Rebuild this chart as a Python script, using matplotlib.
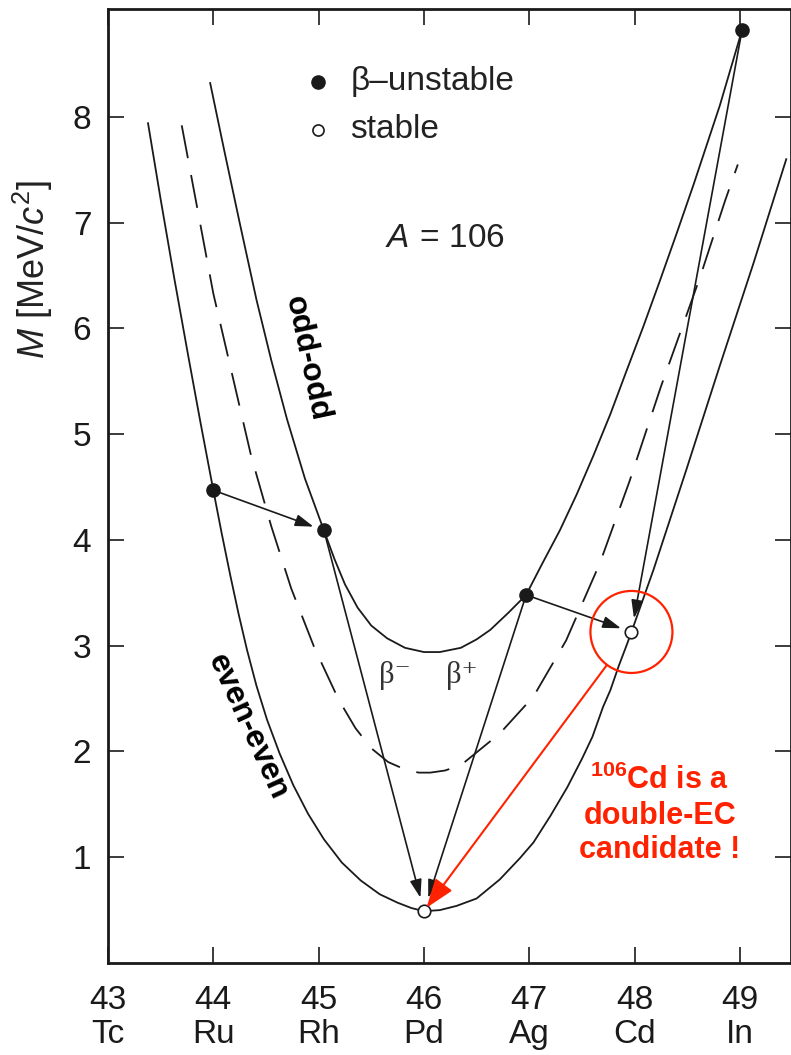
import numpy as np
import matplotlib.pyplot as plt
from matplotlib.patches import Ellipse

plt.rcParams['font.family'] = ['Liberation Sans', 'DejaVu Sans']
plt.rcParams['mathtext.fontset'] = 'custom'
plt.rcParams['mathtext.rm'] = 'Liberation Sans'
plt.rcParams['mathtext.it'] = 'Liberation Sans:italic'
plt.rcParams['mathtext.bf'] = 'Liberation Sans:bold'

# axis ticks
z_ticks = [43, 44, 45, 46, 47, 48, 49]
elements = ['Tc', 'Ru', 'Rh', 'Pd', 'Ag', 'Cd', 'In']
m_ticks = [1, 2, 3, 4, 5, 6, 7, 8]

# even-even mass parabola
ee_z = [43.38, 43.50, 43.63, 43.76, 43.88, 44.00, 44.08, 44.16, 44.24, 44.32,
        44.41, 44.51, 44.63, 44.76, 44.90, 45.05, 45.22, 45.40, 45.58, 45.75,
        45.88, 46.00, 46.15, 46.31, 46.50, 46.72, 46.91, 47.04, 47.20, 47.36,
        47.50, 47.60, 47.70, 47.77, 47.85, 47.93, 47.97, 48.18, 48.49, 48.81,
        49.13, 49.44]
ee_m = [7.94, 7.22, 6.47, 5.75, 5.10, 4.47, 4.06, 3.67, 3.30, 2.96,
        2.62, 2.30, 1.98, 1.68, 1.41, 1.17, 0.95, 0.78, 0.65, 0.57,
        0.52, 0.49, 0.50, 0.54, 0.61, 0.79, 0.99, 1.14, 1.39, 1.66,
        1.93, 2.14, 2.42, 2.58, 2.81, 3.02, 3.13, 3.72, 4.66, 5.65,
        6.62, 7.60]

# odd-odd mass parabola
oo_z = [43.97, 44.10, 44.25, 44.41, 44.55, 44.70, 44.87, 45.05, 45.15, 45.25,
        45.37, 45.50, 45.65, 45.82, 46.00, 46.15, 46.35, 46.50, 46.63, 46.80,
        46.97, 47.12, 47.29, 47.45, 47.61, 47.77, 47.92, 48.08, 48.24, 48.40,
        48.56, 48.68, 48.81, 49.02]
oo_m = [8.32, 7.70, 7.00, 6.27, 5.70, 5.14, 4.58, 4.09, 3.82, 3.58,
        3.36, 3.19, 3.07, 2.98, 2.94, 2.94, 2.98, 3.06, 3.15, 3.31,
        3.48, 3.77, 4.09, 4.43, 4.80, 5.19, 5.59, 6.01, 6.45, 6.90,
        7.36, 7.72, 8.11, 8.82]

# odd-A reference parabola (dashed)
mid_z = [43.70, 44.00, 44.36, 44.55, 44.74, 44.96, 45.19, 45.35, 45.50, 45.66,
         45.82, 45.95, 46.06, 46.20, 46.35, 46.72, 47.04, 47.35, 47.67, 47.95,
         48.25, 48.62, 48.86, 48.98]
mid_m = [7.92, 6.33, 4.79, 4.13, 3.54, 2.98, 2.49, 2.22, 2.03, 1.90,
         1.83, 1.80, 1.80, 1.82, 1.87, 2.17, 2.52, 3.05, 3.78, 4.55,
         5.45, 6.48, 7.21, 7.55]

# nuclides with A = 106
nuc_names = ['Ru', 'Rh', 'Pd', 'Ag', 'Cd', 'In']
nuc_z = [44.00, 45.05, 46.00, 46.97, 47.97, 49.02]
nuc_m = [4.47, 4.09, 0.49, 3.48, 3.13, 8.82]
nuc_stable = [False, False, True, False, True, False]
decays = [('Ru', 'Rh'), ('Rh', 'Pd'), ('Ag', 'Pd'), ('Ag', 'Cd'), ('In', 'Cd')]
decay_shrink = [8, 10, 10, 8, 10]

ink = '#1a1a1a'
red = '#ff2200'

fig = plt.figure(figsize=(7.91, 10.55), dpi=100)
ax = fig.add_axes([108 / 791, 92 / 1055, 683 / 791, 954 / 1055])

ax.plot(ee_z, ee_m, color=ink, lw=1.3, zorder=2)
ax.plot(oo_z, oo_m, color=ink, lw=1.3, zorder=2)
ax.plot(mid_z, mid_m, color=ink, lw=1.3, dashes=(18.5, 9.5), zorder=2)

pos = {n: (z, m) for n, z, m in zip(nuc_names, nuc_z, nuc_m)}
for (a, b), sh in zip(decays, decay_shrink):
    ax.annotate('', xy=pos[b], xytext=pos[a],
                arrowprops=dict(arrowstyle='-|>,head_length=0.55,head_width=0.18',
                                color=ink, lw=1.2, shrinkA=0, shrinkB=sh,
                                mutation_scale=20), zorder=3)

for z, m, st in zip(nuc_z, nuc_m, nuc_stable):
    if st:
        ax.plot(z, m, 'o', ms=9, mfc='white', mec=ink, mew=1.2, zorder=5)
    else:
        ax.plot(z, m, 'o', ms=9.5, mfc=ink, mec=ink, zorder=5)

# legend drawn by hand
ax.plot(44.99, 8.33, 'o', ms=9.5, mfc=ink, mec=ink)
ax.plot(44.99, 7.88, 'o', ms=8, mfc='white', mec=ink, mew=1.2)
ax.text(45.30, 8.33, '\u03b2\u2013unstable', fontsize=24, va='center', ha='left', color='#222222')
ax.text(45.30, 7.88, 'stable', fontsize=24, va='center', ha='left', color='#222222')

ax.text(46.2, 6.85, r'$A\,{=}\,106$', fontsize=24, ha='center', va='center', color='#222222')
ax.text(44.89, 5.72, 'odd-odd', rotation=-78, rotation_mode='anchor', fontsize=23,
        fontweight='bold', ha='center', va='center')
ax.text(44.32, 2.23, 'even-even', rotation=-65.5, rotation_mode='anchor', fontsize=23,
        fontweight='bold', ha='center', va='center')
ax.text(45.72, 2.72, '\u03b2\u207b', family=['Liberation Serif', 'DejaVu Serif'],
        fontsize=22, ha='center', va='center', color='#333333')
ax.text(46.36, 2.72, '\u03b2\u207a', family=['Liberation Serif', 'DejaVu Serif'],
        fontsize=22, ha='center', va='center', color='#333333')

# double-EC annotation
cd = pos['Cd']
ax.add_patch(Ellipse(cd, width=82 / 105.33, height=82 / 105.76, fill=False,
                     ec=red, lw=1.6, zorder=6))
ax.annotate('', xy=pos['Pd'], xytext=cd,
            arrowprops=dict(arrowstyle='-|>,head_length=0.9,head_width=0.32',
                            color=red, lw=1.5, shrinkA=29.5, shrinkB=3,
                            mutation_scale=20), zorder=7)
ax.text(48.24, 1.40, '$^{\\mathbf{106}}$Cd is a\ndouble-EC\ncandidate !', color=red,
        fontsize=22, fontweight='bold', ha='center', va='center', multialignment='center')

ax.set_xlim(43, 49.485)
ax.set_ylim(0, 9.02)
ax.set_xticks(z_ticks)
ax.set_xticklabels([f'{z}\n{e}' for z, e in zip(z_ticks, elements)])
ax.set_yticks(m_ticks)
ax.tick_params(axis='both', direction='in', length=11.5, width=1.2,
               top=True, right=True, labelsize=24, colors=ink)
ax.tick_params(axis='x', pad=16)
ax.tick_params(axis='y', pad=12)
for lbl in ax.get_xticklabels():
    lbl.set_linespacing(1.1)
for s in ax.spines.values():
    s.set_linewidth(2)
    s.set_color(ink)

fig.text(33 / 791, 1 - 270 / 1055, r'$M$ [MeV/$c^2$]', rotation=90, fontsize=26,
         ha='center', va='center', color='#222222')

fig.savefig('out.png', dpi=100)
